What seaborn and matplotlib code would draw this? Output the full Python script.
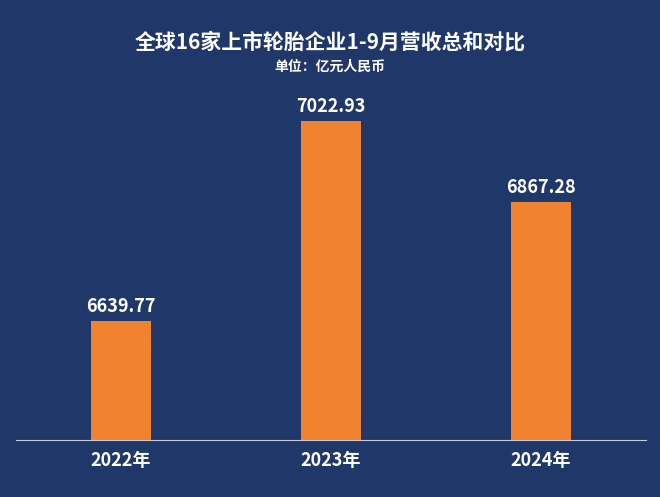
import matplotlib
matplotlib.use('Agg')
import matplotlib.pyplot as plt
import seaborn as sns
import pandas as pd

years = ['2022年', '2023年', '2024年']
revenue = [6639.77, 7022.93, 6867.28]

bg = '#1f3769'
orange = '#f0832f'

sns.set_style('white')
plt.rcParams['font.family'] = ['Noto Sans CJK SC', 'DejaVu Sans']

df = pd.DataFrame({'year': years, 'revenue': revenue})

fig = plt.figure(figsize=(6.6, 4.97), dpi=100, facecolor=bg)
ax = fig.add_axes([16 / 660, 1 - 440 / 497, 630 / 660, 340 / 497])
ax.set_facecolor(bg)

sns.barplot(data=df, x='year', y='revenue', color=orange, width=0.29,
            saturation=1, linewidth=0, ax=ax)

ax.set_ylim(6412, 7063)
ax.set_xlim(-0.5, 2.5)
for i, v in enumerate(revenue):
    ax.text(i, v + 10, f'{v:.2f}', ha='center', va='bottom', color='white',
            fontsize=13, fontweight='bold')

for s in ['top', 'left', 'right']:
    ax.spines[s].set_visible(False)
ax.spines['bottom'].set_color('#c8cfdc')
ax.set_yticks([])
ax.set_xlabel('')
ax.set_ylabel('')
ax.tick_params(axis='x', colors='white', labelsize=13, length=0, pad=8)
for t in ax.get_xticklabels():
    t.set_fontweight('bold')

fig.text(0.5, 1 - 42 / 497, '全球16家上市轮胎企业1-9月营收总和对比', ha='center', va='center',
         color='white', fontsize=15, fontweight='bold')
fig.text(0.5, 1 - 67 / 497, '单位：亿元人民币', ha='center', va='center',
         color='white', fontsize=10, fontweight='bold')

fig.savefig('out.png', dpi=100, facecolor=bg)
